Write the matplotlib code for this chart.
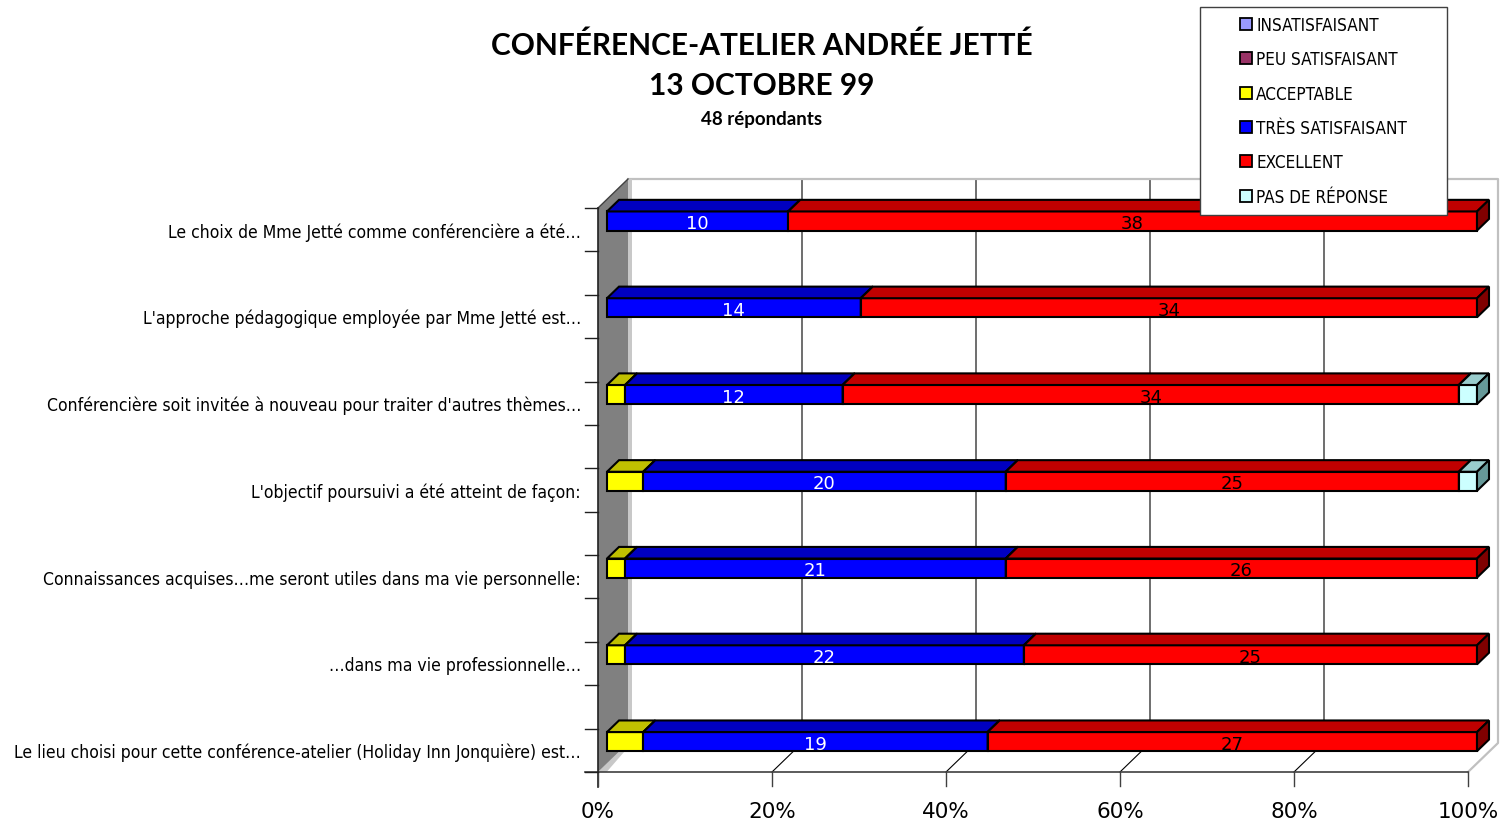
import matplotlib
matplotlib.use("Agg")
import matplotlib.pyplot as plt
from matplotlib.patches import Polygon, Patch, Rectangle
from matplotlib import font_manager as fm
from matplotlib.font_manager import FontProperties

# ---------------- data ----------------
categories = [
    "Le choix de Mme Jetté comme conférencière a été…",
    "L'approche pédagogique employée par Mme Jetté est…",
    "Conférencière soit invitée à nouveau pour traiter d'autres thèmes…",
    "L'objectif poursuivi a été atteint de façon:",
    "Connaissances acquises…me seront utiles dans ma vie personnelle:",
    "…dans ma vie professionnelle…",
    "Le lieu choisi pour cette conférence-atelier (Holiday Inn Jonquière) est…",
]
series_names = ["INSATISFAISANT", "PEU SATISFAISANT", "ACCEPTABLE",
                "TRÈS SATISFAISANT", "EXCELLENT", "PAS DE RÉPONSE"]
insatisfaisant = [0, 0, 0, 0, 0, 0, 0]
peu_satisfaisant = [0, 0, 0, 0, 0, 0, 0]
acceptable = [0, 0, 1, 2, 1, 1, 2]
tres_satisfaisant = [10, 14, 12, 20, 21, 22, 19]
excellent = [38, 34, 34, 25, 26, 25, 27]
pas_de_reponse = [0, 0, 1, 1, 0, 0, 0]
xticks = [0, 20, 40, 60, 80, 100]
xticklabels = ["0%", "20%", "40%", "60%", "80%", "100%"]

title1 = "CONFÉRENCE-ATELIER ANDRÉE JETTÉ"
title2 = "13 OCTOBRE 99"
title3 = "48 répondants"

# ---------------- styles ----------------
front_col = ["#9999FF", "#993366", "#FFFF00", "#0000FF", "#FF0000", "#CCFFFF"]
top_col = ["#7373C0", "#732650", "#C0C000", "#0000C0", "#C00000", "#99CCCC"]
side_col = ["#4D4D80", "#4D1A33", "#808000", "#000080", "#800000", "#669999"]
label_col = [None, None, None, "white", "black", None]

avail = {f.name for f in fm.fontManager.ttflist}


def find_condensed():
    for f in fm.fontManager.ttflist:
        nm = f.name
        st = str(f.stretch)
        if "Mono" in nm or "Serif" in nm or "CJK" in nm:
            continue
        if not ("Narrow" in nm or "Condensed" in nm or "condensed" in st):
            continue
        if f.style != "normal":
            continue
        if str(f.weight) not in ("400", "normal", "regular", "book", "Regular"):
            continue
        return f.fname
    return None


cpath = find_condensed()
if cpath:
    NARROW_FP = FontProperties(fname=cpath)
elif "Roboto" in avail:
    NARROW_FP = FontProperties(family="Roboto")
else:
    NARROW_FP = FontProperties(family="Liberation Sans")
TITLEF = "Lato" if "Lato" in avail else "DejaVu Sans"

W, H = 1503, 828
fig = plt.figure(figsize=(W / 100, H / 100), dpi=100)
fig.patch.set_facecolor("white")
renderer = fig.canvas.get_renderer()


def fit_size(s, fp, target_px, base=14.0):
    p = fp.copy()
    p.set_size(base)
    t = fig.text(0, 0, s, fontproperties=p)
    w = t.get_window_extent(renderer).width
    t.remove()
    return base * target_px / w


cat_size = min(fit_size(categories[0], NARROW_FP, 417), 14.5)
leg_size = min(fit_size(series_names[3], NARROW_FP, 152), 12.5)
title_fp = FontProperties(family=TITLEF, weight="bold")
title_size = min(fit_size(title1, title_fp, 545), 21.5)
sub_size = min(fit_size(title3, title_fp, 143), 13.5)

ax = fig.add_axes([598 / W, (H - 773) / H, 870 / W, 564 / H])
ax.set_xlim(0, 100)
ax.set_ylim(6.25, -0.25)
ax.axis("off")

PX = 870 / 100.0          # pixels per percent
PY = 564 / 6.5            # pixels per category unit
Dx, Dy = 30 / PX, -29 / PY  # full depth in data units
YT, YB = -0.25, 6.25

# back wall
ax.add_patch(Polygon([(Dx, YT + Dy), (100 + Dx, YT + Dy), (100 + Dx, YB + Dy), (Dx, YB + Dy)],
                     closed=True, fc="white", ec="none", zorder=0, clip_on=False))
for t in xticks[1:-1]:
    ax.plot([t + Dx, t + Dx, t], [YT + Dy, YB + Dy, YB], color="black", lw=0.8,
            zorder=1, clip_on=False)
ax.plot([Dx, 100 + Dx, 100 + Dx, 100], [YT + Dy, YT + Dy, YB + Dy, YB],
        color="#c0c0c0", lw=1.6, zorder=1, clip_on=False)

# side wall
ax.add_patch(Polygon([(Dx, YT + Dy), (Dx + 0.45, YT + Dy), (Dx + 0.45, YB + Dy), (Dx, YB + Dy)],
                     closed=True, fc="#c8c8c8", ec="none", zorder=1.5, clip_on=False))
ax.add_patch(Polygon([(0, YB), (Dx, YB + Dy), (Dx + 0.45, YB + Dy), (0.45 * 2.2, YB)],
                     closed=True, fc="#c8c8c8", ec="none", zorder=1.5, clip_on=False))
ax.add_patch(Polygon([(0, YT), (Dx, YT + Dy), (Dx, YB + Dy), (0, YB)],
                     closed=True, fc="#808080", ec="none", zorder=2, clip_on=False))
ax.plot([0, Dx], [YT, YT + Dy], color="#404040", lw=1.0, zorder=2.1, clip_on=False)

# axes lines and ticks
ax.plot([-1.5, 100], [YB, YB], color="#404040", lw=1.2, zorder=2.2, clip_on=False)
ax.plot([0, 0], [YT, YB + 0.17], color="#202020", lw=1.2, zorder=2.2, clip_on=False)
for t in xticks:
    ax.plot([t, t], [YB, YB + 0.16], color="#404040", lw=1.0, zorder=2.2, clip_on=False)
for k in range(14):
    yk = YT + 0.5 * k
    ax.plot([-1.5, 0], [yk, yk], color="#202020", lw=1.0, zorder=2.2, clip_on=False)
for t, lab in zip(xticks, xticklabels):
    ax.text(t, YB + 0.45, lab, ha="center", va="center", fontsize=15.5,
            family="DejaVu Sans", color="black")

# category labels
cat_fp = NARROW_FP.copy()
cat_fp.set_size(cat_size)
for i, c in enumerate(categories):
    ax.text(-1.95, i + 0.02, c, ha="right", va="center", fontproperties=cat_fp, color="black")

# bars
data = [insatisfaisant, peu_satisfaisant, acceptable, tres_satisfaisant, excellent, pas_de_reponse]
fx, fy = 0.3 * Dx, 0.3 * Dy
bx, by = 0.7 * Dx, 0.7 * Dy
h = 0.11
n = len(categories)
lefts = [0.0] * n
for s, vals in enumerate(data):
    z = 3 + s
    for i in range(n):
        total = sum(d[i] for d in data)
        v = vals[i]
        if v == 0:
            continue
        pct = v / total * 100
        x0, x1 = lefts[i], lefts[i] + pct
        ax.barh(i + fy, pct, left=x0 + fx, height=2 * h, color=front_col[s],
                edgecolor="black", linewidth=1.5, zorder=z, clip_on=False)
        ax.add_patch(Polygon([(x0 + fx, i - h + fy), (x1 + fx, i - h + fy),
                              (x1 + bx, i - h + by), (x0 + bx, i - h + by)],
                             closed=True, fc=top_col[s], ec="black", lw=1.5,
                             joinstyle="miter", zorder=z, clip_on=False))
        ax.add_patch(Polygon([(x1 + fx, i - h + fy), (x1 + bx, i - h + by),
                              (x1 + bx, i + h + by), (x1 + fx, i + h + fy)],
                             closed=True, fc=side_col[s], ec="black", lw=1.5,
                             joinstyle="miter", zorder=z, clip_on=False))
        if label_col[s]:
            ax.text((x0 + x1) / 2 + fx, i + fy + 0.025, str(v), ha="center", va="center",
                    fontsize=13, family="DejaVu Sans", color=label_col[s], zorder=20)
        lefts[i] = x1

# titles
fig.text(761.5 / W, 1 - 46 / H, title1, ha="center", va="center", fontsize=title_size,
         family=TITLEF, weight="bold")
fig.text(761.5 / W, 1 - 86 / H, title2, ha="center", va="center", fontsize=title_size,
         family=TITLEF, weight="bold")
fig.text(761.5 / W, 1 - 119 / H, title3, ha="center", va="center", fontsize=sub_size,
         family=TITLEF, weight="bold")

# legend
fig.patches.append(Rectangle((1200 / W, 1 - 216 / H), 247 / W, 208 / H, transform=fig.transFigure,
                             fc="white", ec="#404040", lw=1.0, zorder=30))
leg_fp = NARROW_FP.copy()
leg_fp.set_size(leg_size)
fs_px = leg_size * 100 / 72
lsp = (34.4 - 0.94 * fs_px - 2.0) / fs_px
handles = [Patch(facecolor=front_col[s], edgecolor="black", linewidth=1.3) for s in range(6)]
leg = fig.legend(handles, series_names, loc="upper left",
                 bbox_to_anchor=(1240 / W, 1 - 17 / H), frameon=False, borderpad=0,
                 borderaxespad=0, labelspacing=lsp, handlelength=12 / fs_px,
                 handleheight=12 / fs_px, handletextpad=4 / fs_px, prop=leg_fp)
leg.set_zorder(31)

fig.savefig("out.png", dpi=100, facecolor="white")
